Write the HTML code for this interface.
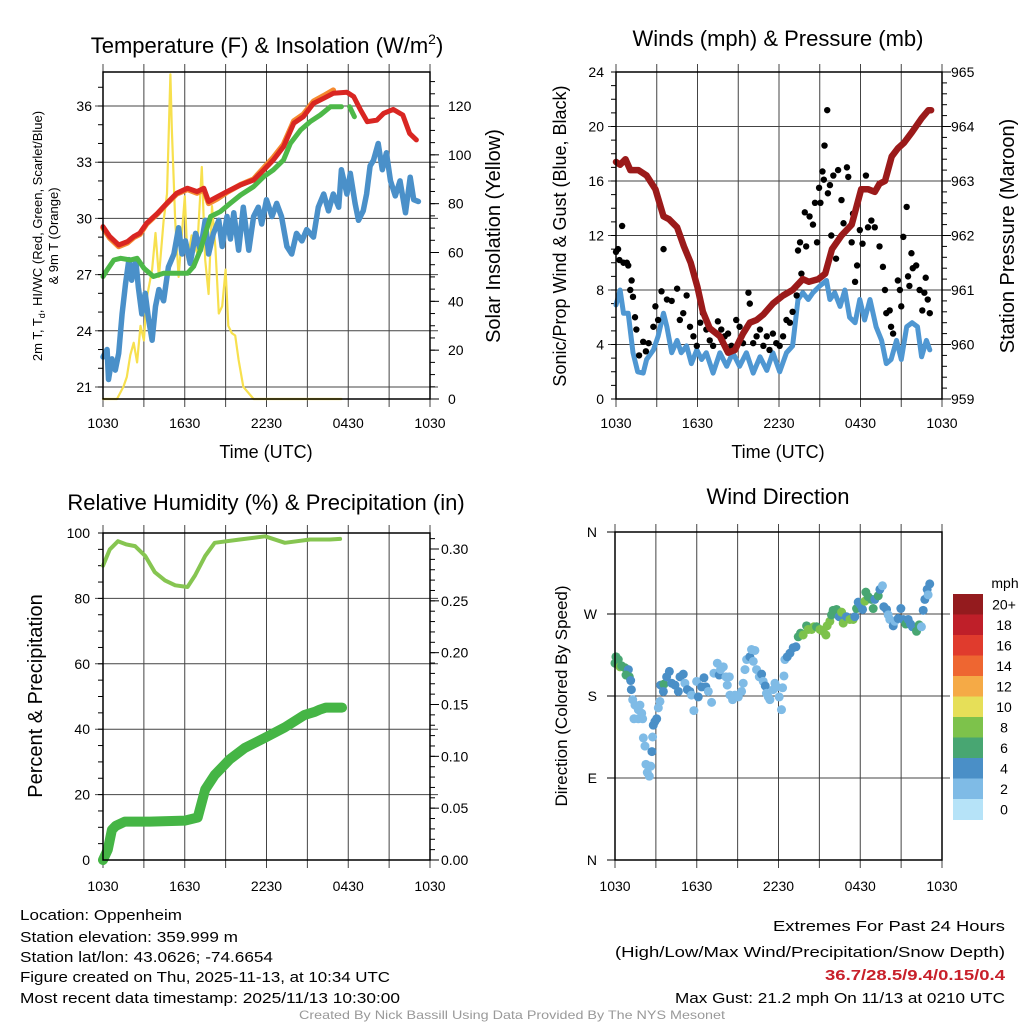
<!DOCTYPE html>
<html><head><meta charset="utf-8"><style>
html,body{margin:0;padding:0;background:#fff;}
svg{display:block;font-family:"Liberation Sans",Arial,sans-serif;}
</style></head><body>
<svg id="fig" width="1024" height="1024" viewBox="0 0 1024 1024" xmlns="http://www.w3.org/2000/svg">
<rect width="1024" height="1024" fill="#fff"/>
<g id="texts" fill="#000">
<text x="267" y="53" font-size="22" text-anchor="middle">Temperature (F) &amp; Insolation (W/m<tspan font-size="14" dy="-9">2</tspan><tspan dy="9">)</tspan></text>
<text x="778" y="46" font-size="22" text-anchor="middle">Winds (mph) &amp; Pressure (mb)</text>
<text x="266" y="510" font-size="22" text-anchor="middle">Relative Humidity (%) &amp; Precipitation (in)</text>
<text x="778" y="504" font-size="22" text-anchor="middle">Wind Direction</text>
<text x="266" y="458" font-size="18" text-anchor="middle">Time (UTC)</text>
<text x="778" y="458" font-size="18" text-anchor="middle">Time (UTC)</text>
<text transform="translate(42,236) rotate(-90)" font-size="13" text-anchor="middle">2m T, T<tspan font-size="9" dy="3">d</tspan><tspan dy="-3">, HI/WC (Red, Green, Scarlet/Blue)</tspan></text>
<text transform="translate(58,236) rotate(-90)" font-size="13" text-anchor="middle">&amp; 9m T (Orange)</text>
<text transform="translate(500,236) rotate(-90)" font-size="20" text-anchor="middle">Solar Insolation (Yellow)</text>
<text transform="translate(566,236) rotate(-90)" font-size="18" text-anchor="middle">Sonic/Prop Wind &amp; Gust (Blue, Black)</text>
<text transform="translate(1014,236) rotate(-90)" font-size="20" text-anchor="middle">Station Pressure (Maroon)</text>
<text transform="translate(42,696) rotate(-90)" font-size="20" text-anchor="middle">Percent &amp; Precipitation</text>
<text transform="translate(567,696) rotate(-90)" font-size="17" text-anchor="middle">Direction (Colored By Speed)</text>
<g font-size="15">
<text x="20" y="920" textLength="162" lengthAdjust="spacingAndGlyphs">Location: Oppenheim</text>
<text x="20" y="942" textLength="218" lengthAdjust="spacingAndGlyphs">Station elevation: 359.999 m</text>
<text x="20" y="962" textLength="253" lengthAdjust="spacingAndGlyphs">Station lat/lon: 43.0626; -74.6654</text>
<text x="20" y="982" textLength="370" lengthAdjust="spacingAndGlyphs">Figure created on Thu, 2025-11-13, at 10:34 UTC</text>
<text x="20" y="1003" textLength="380" lengthAdjust="spacingAndGlyphs">Most recent data timestamp: 2025/11/13 10:30:00</text>
<text x="1005" y="931" text-anchor="end" textLength="232" lengthAdjust="spacingAndGlyphs">Extremes For Past 24 Hours</text>
<text x="1005" y="957" text-anchor="end" textLength="390" lengthAdjust="spacingAndGlyphs">(High/Low/Max Wind/Precipitation/Snow Depth)</text>
<text x="1005" y="980" text-anchor="end" fill="#c8202a" font-weight="bold" textLength="180" lengthAdjust="spacingAndGlyphs">36.7/28.5/9.4/0.15/0.4</text>
<text x="1005" y="1003" text-anchor="end" textLength="330" lengthAdjust="spacingAndGlyphs">Max Gust: 21.2 mph On 11/13 at 0210 UTC</text>
</g>
<text x="512" y="1019" font-size="12" fill="#999" text-anchor="middle" textLength="426" lengthAdjust="spacingAndGlyphs">Created By Nick Bassill Using Data Provided By The NYS Mesonet</text>
</g>
</svg>
<script>
// ---------- DATA ----------
const timeLabels = ["1030","1630","2230","0430","1030"];
// Temperature panel
const airTHours = [0,0.5,1.15,1.8,2.25,2.7,3.2,4,4.7,5.4,6.2,6.9,7.4,7.75,8.4,9.1,10.1,11.05,11.8,12.5,13.25,14,14.7,15.45,16.2,16.9,17.9,18.4,18.9,19.4,20.1,20.6,21.3,22,22.5,23];
const airT = [29.56,29.03,28.58,28.76,29.03,29.21,29.74,30.27,30.81,31.34,31.61,31.43,31.61,30.9,31.16,31.43,31.79,32.05,32.59,33.12,33.83,35.08,35.43,36.14,36.41,36.68,36.73,36.5,35.79,35.16,35.25,35.61,35.82,35.52,34.54,34.19];
const t9mHours = [0,0.5,1.15,1.8,2.25,2.7,3.2,4,4.7,5.4,6.2,6.9,7.4,7.75,8.4,9.1,10.1,11.05,11.8,12.5,13.25,14,14.7,15.45,16.2,16.9];
const t9m = [29.5,28.95,28.5,28.7,28.98,29.15,29.7,30.25,30.8,31.3,31.55,31.35,31.55,30.8,31.05,31.4,31.8,32.1,32.7,33.25,33.95,35.2,35.55,36.25,36.55,36.85];
const dewHours = [0,0.3,0.8,1.3,2,2.5,3,3.7,4.45,5.2,6.2,6.65,7.15,7.9,8.6,9.35,10.1,11.05,11.8,12.5,13.25,13.75,14.5,15.2,15.95,16.7,17.5,17.8,18.1,18.45];
const dewT = [26.9,27.25,27.78,27.87,27.78,27.87,27.34,26.9,27.07,27.07,27.07,27.43,28.32,30.1,30.36,30.81,31.25,31.7,32.23,32.59,33.12,34.0,34.72,35.16,35.52,35.96,35.96,null,35.96,35.43];
const wcHours = [0,0.3,0.4,0.65,0.9,1.15,1.4,1.65,1.9,2.1,2.4,2.6,2.85,3.1,3.35,3.6,3.85,4.1,4.45,4.8,5.2,5.55,5.8,6.05,6.4,6.8,7.15,7.5,7.75,8.1,8.5,8.75,9.1,9.35,9.6,9.95,10.3,10.7,11.05,11.4,11.65,12,12.4,12.75,13.1,13.5,13.85,14.2,14.6,14.95,15.45,15.8,16.2,16.55,16.9,17.3,17.5,17.9,18.15,18.5,18.75,19.1,19.35,19.6,19.85,20.2,20.5,20.8,21.1,21.45,21.8,22.2,22.55,22.8,23.15];
const wcT = [22.6,23,21.4,22.5,21.9,22.8,24.9,26.5,27.8,26.7,27.8,26.3,24.9,26,24.6,23.5,25.3,26.2,25.6,27.4,28.1,29.5,28.1,28.8,27.6,29.2,28.3,29.9,28.1,29.2,29.9,28.5,30.1,28.9,30.3,28.3,30.6,28.3,30.1,30.6,29.7,31,30.1,30.8,30.1,28.5,28.1,29.2,28.8,29.4,29,30.6,31.3,30.4,31.3,30.6,32.6,31.3,32.4,30.8,29.9,30.4,31.3,32.8,33.1,34,32.6,33.5,32,31.2,32,30.3,32.2,31,30.9];
const solarHours = [0,1.03,1.5,1.75,2,2.25,2.5,2.75,3.0,3.2,3.6,3.85,4.1,4.45,4.7,4.95,5.05,5.3,5.55,6.0,6.2,6.5,6.9,7.25,7.5,7.75,8.0,8.25,8.5,8.75,9.0,9.2,9.45,9.7,9.95,10.3,11.05,17.5];
const solar = [0,0,5,9,18,23,15,30,24,41,53,68,50,73,84,133,111,73,50,83,57,67,60,95,57,43,79,62,35,38,53,30,27,26,16,5,0,0];
const tempTicks = [21,24,27,30,33,36];
const solarTicks = [0,20,40,60,80,100,120];
// Wind panel
const presHours = [0,0.3,0.7,1.05,1.65,2.25,2.9,3.5,3.9,4.5,5.0,5.5,6.0,6.4,6.9,7.65,8.25,8.75,9.35,9.85,10.35,10.85,11.55,12.3,13,13.75,14.2,14.9,15.4,15.9,16.6,17.35,18.05,18.55,19.05,19.4,19.8,20.3,20.75,21.2,21.8,22.5,23,23.2];
const pressure = [963.35,963.3,963.4,963.2,963.2,963.1,962.85,962.35,962.3,962.15,961.8,961.5,961.05,960.6,960.3,960.15,959.85,959.9,960.2,960.4,960.45,960.55,960.75,960.9,961,961.2,961.15,961.2,961.3,961.75,962,962.2,962.85,962.85,962.8,962.95,963,963.45,963.6,963.7,963.9,964.15,964.3,964.3];
const windHours = [0,0.3,0.55,0.9,1.25,1.6,2,2.25,2.75,3.1,3.5,3.75,4.1,4.5,4.8,5.2,5.55,5.95,6.3,6.65,7.15,7.65,8.15,8.6,9.1,9.6,10.1,10.6,11.1,11.55,12.05,12.55,13,13.4,13.75,14.15,14.5,15,15.5,15.75,16.1,16.5,16.85,17.2,17.6,17.95,18.3,18.7,19.15,19.55,19.9,20.25,20.65,21,21.4,21.8,22.2,22.5,22.85,23.1];
const windSpd = [6.9,8,6.3,6.3,3.4,2,1.9,2.9,3.6,4.6,6.3,5.3,3.4,4.3,3.4,3.9,2.6,3.6,2.9,3.4,1.9,3.4,2.4,3.4,2.4,3.4,1.9,3.1,2.1,3.4,2,3.4,3.9,7.3,7.8,7.3,7.8,8.3,8.7,7.3,7.8,6.8,8,6,5.6,7.3,5.8,7.3,5.3,4.3,2.6,2.9,4.3,2.9,5.3,5.6,5.3,3.1,4.3,3.6];
const gustHours = [0,0.15,0.25,0.45,0.55,0.8,0.9,1.05,1.15,1.25,1.4,1.5,1.7,2,2.2,2.4,2.75,2.9,3.1,3.35,3.5,3.75,4.1,4.5,4.7,4.95,5.2,5.45,5.7,5.95,6.2,6.4,6.65,6.9,7.15,7.5,7.75,8,8.25,8.5,8.85,9.1,9.35,9.75,9.85,10.1,10.35,10.6,10.85,11.1,11.3,11.55,11.8,12.05,12.3,12.55,12.8,13,13.3,13.4,13.55,13.65,13.9,14.0,14.25,14.5,14.65,14.8,14.95,15.05,15.2,15.3,15.35,15.55,15.6,15.75,15.85,16,16.2,16.35,16.6,16.75,17,17.1,17.35,17.45,17.6,17.75,17.95,18.15,18.4,18.55,18.8,19.05,19.4,19.65,19.8,19.9,20.15,20.25,20.4,20.75,20.9,21,21.15,21.4,21.5,21.6,21.75,21.85,22.1,22.35,22.55,22.7,22.8,22.95,23.1];
const gustSpd = [10.8,11,10.2,12.7,10,10,9.8,8,8.7,7.5,6,5.1,3.2,4.2,3.5,4.1,5.3,6.8,5.8,7.9,11,7.3,7.2,8.1,5.8,6.3,7.6,5.3,4.6,3.9,5.6,6.3,5.1,4.3,3.9,5.7,5.1,4.6,4.8,3.9,5.8,5.3,4.1,7.8,7,4.1,4.6,5.1,3.9,4.6,3.6,4.8,4.1,3.9,4.6,5.8,5.6,6.4,7.6,10.9,11.5,9.2,13.7,11.2,13.4,12.8,14.4,11.5,15.5,14.4,16.7,16.1,18.6,21.2,15.1,15.7,12,16.4,10.3,16.8,14.6,12.9,17,16.3,11.5,13.6,8.6,9.8,12.4,11.4,16.4,12.6,13.1,12.6,11.2,9.7,8,6.3,6.5,5.3,4.8,8.7,8,6.8,11.9,14.1,9,8.3,10.7,9.6,9.8,8,6.5,7.8,8.9,7.3,6.3];
const windTicks = [0,4,8,12,16,20,24];
const presTicks = [959,960,961,962,963,964,965];
// RH panel
const rhHours = [0,0.5,1.1,1.7,2.35,3.1,3.8,4.55,5.3,6.2,6.75,7.5,8.2,10.05,11.9,13.35,15.2,16.65,17.4,17.75,18.1];
const rh = [90,95,97.5,96.5,96,93,88,85.5,84,83.5,87,93,97,98,99,97,98,98,98.2,null,97];
const precipHours = [0,0.35,0.65,0.95,1.6,3.45,6,6.95,7.5,8.2,9.3,10.4,11.9,13.35,14.8,15.55,15.9,16.35,17,17.55];
const precip = [0,0.01,0.029,0.033,0.037,0.037,0.038,0.041,0.068,0.082,0.097,0.108,0.118,0.128,0.14,0.143,0.145,0.147,0.147,0.147];
const rhTicks = [0,20,40,60,80,100];
const precipTicks = [0,0.05,0.10,0.15,0.20,0.25,0.30];
// Direction panel
const dirHours = [0,0.07,0.24,0.37,0.49,0.73,0.98,0.81,1.05,1.15,1.2,1.3,1.47,1.71,1.83,1.39,1.71,2.03,1.96,2.08,2.2,2.27,2.37,2.52,2.62,2.71,2.76,2.81,2.93,3.06,3.18,3.3,3.35,3.59,3.55,3.79,3.99,4.16,4.4,4.65,4.77,5.01,5.13,5.31,5.5,5.62,5.79,5.99,6.11,6.36,6.53,6.67,6.85,7.09,7.26,7.51,7.65,7.75,7.95,8.14,8.24,8.39,8.44,8.63,8.8,9.05,9.29,9.41,9.54,9.66,9.9,10.02,10.27,10.15,10.39,10.59,10.76,10.88,11.03,11.12,11.25,11.37,11.61,11.74,11.86,12.05,12.22,12.3,12.4,12.47,12.64,12.84,13.08,13.28,13.45,13.62,13.81,14.06,14.18,14.43,14.6,14.79,15.04,15.28,15.48,15.57,15.77,15.89,16.01,16.26,16.45,16.63,16.75,16.99,17.24,17.48,17.6,17.73,17.85,18.02,18.17,18.34,18.41,18.58,18.83,18.95,19.07,19.32,19.44,19.63,19.73,19.93,20.05,20.17,20.42,20.54,20.78,20.98,21.15,21.34,21.52,21.69,21.83,22.13,22.32,22.49,22.62,22.74,22.91,23.1,22.98];
const dirDeg = [216,223,220,212,213,211,209,203,201,197,187,176,170,165,170,155,155,155,161,134,125,105,96,92,103,119,135,148,152,155,167,174,192,193,185,201,207,194,192,185,201,204,194,187,185,181,164,196,179,190,200,190,185,173,205,216,203,209,212,201,192,201,181,176,181,179,185,194,209,220,223,231,230,218,209,201,204,196,191,183,179,176,187,194,190,179,165,189,202,220,223,227,233,234,245,249,247,257,253,253,256,256,253,251,247,257,262,269,274,275,267,272,260,267,264,264,267,276,283,280,275,284,294,289,286,276,286,290,297,301,278,275,269,264,257,262,265,276,264,259,264,259,256,251,258,256,274,286,297,303,291];
const dirSpd = [6,6,6,8,6,6,4,6,6,4,4,2,2,2,2,2,2,2,2,2,2,2,2,2,2,4,2,4,4,4,2,2,4,6,4,4,4,4,4,4,4,4,2,4,4,2,2,2,4,4,4,4,2,2,2,2,4,2,2,2,2,2,2,2,2,2,2,2,2,2,4,2,2,2,2,2,4,2,4,2,2,2,2,2,2,2,2,2,2,2,4,4,4,4,6,6,8,6,8,8,8,6,8,8,8,8,8,6,6,6,4,8,8,4,8,8,4,6,4,4,4,8,6,6,6,6,4,6,4,2,4,4,2,2,4,2,4,4,4,6,4,4,4,6,6,2,4,4,4,4,2];
const dirTickLabels = ["N","E","S","W","N"];
const speedBins = [0,2,4,6,8,10,12,14,16,18,20];
const speedBinLabels = ["0","2","4","6","8","10","12","14","16","18","20+"];
const speedColors = ["#b6e3f8","#7fbbe6","#4a8fc7","#48a672","#7dc24b","#e6df58","#f5aa46","#ee6631","#e03b2d","#bf1f29","#941b1e"];

// ---------- DRAWING ----------
const NS="http://www.w3.org/2000/svg";
const svg=document.getElementById('fig');
function mk(tag,attrs,parent){const e=document.createElementNS(NS,tag);for(const k in attrs)e.setAttribute(k,attrs[k]);(parent||svg).appendChild(e);return e;}
function lin(d0,d1,r0,r1){return v=>r0+(v-d0)*(r1-r0)/(d1-d0);}

function panel(name,L,R,T,B){
  const g=mk('g',{});
  
  
  return {g,L,R,T,B,x:lin(0,24,L,R)};
}
function frame(p){
  const grid=mk('g',{stroke:'#444','stroke-width':1},p.g);
  
  
  for(let h=0;h<=24;h+=3){
    const X=p.x(h);
    const l=mk('line',{x1:X,x2:X,y1:p.T-8,y2:p.B+8},grid);
    
    
  }
  return grid;
}
function hgrid(p,grid,ys){ys.forEach(Y=>{const l=mk('line',{x1:p.L-8,x2:p.R+8,y1:Y,y2:Y},grid);});}
function border(p){const r=mk('rect',{x:p.L,y:p.T,width:p.R-p.L,height:p.B-p.T,fill:'none',stroke:'#000','stroke-width':1.5},p.g);}
function xlabels(p,y){timeLabels.forEach((t,i)=>{const e=mk('text',{x:p.x(i*6),y:y,'font-size':14,'text-anchor':'middle'},p.g);e.textContent=t;});}
function ylabels(p,ticks,fy,x,anchor,fmt){ticks.forEach(t=>{const e=mk('text',{x:x,y:fy(t)+5,'font-size':14,'text-anchor':anchor},p.g);e.textContent=fmt?fmt(t):t;});}
function minor(p,ticks,fy,side,len){ticks.forEach(t=>{const Y=fy(t);const x0=side<0?p.L:p.R;const l=mk('line',{x1:x0,x2:x0+side*len,y1:Y,y2:Y,stroke:'#000','stroke-width':1},p.g);});}
function path(p,xs,ys,fy,style,name){
  let d='',pen=false;
  xs.forEach((h,i)=>{const v=ys[i];if(v===null||v===undefined){pen=false;return;}d+=(pen?'L':'M')+p.x(h).toFixed(1)+','+fy(v).toFixed(1);pen=true;});
  const e=mk('path',Object.assign({d:d,fill:'none','stroke-linejoin':'round','stroke-linecap':'round'},style),p.g);
  
  
  return e;
}
function range(a,b,s){const r=[];for(let v=a;v<=b+1e-9;v+=s)r.push(+v.toFixed(4));return r;}

// Panel 1: temperature
{
  const p=panel('temperature-panel',103,430,72,399);
  const fy=lin(21,36,387,106), fs=lin(0,120,399,106);
  const grid=frame(p); hgrid(p,grid,tempTicks.map(fy));
  minor(p,range(21,37,1),fy,-1,5); minor(p,range(0,130,5),fs,1,5); minor(p,solarTicks,fs,1,9);
  path(p,solarHours,solar,fs,{stroke:'#f7e04e','stroke-width':2.2},'solar-line');
  path(p,wcHours,wcT,fy,{stroke:'#4a90c9','stroke-width':5.5},'windchill-line');
  path(p,dewHours,dewT,fy,{stroke:'#4db848','stroke-width':5},'dewpoint-line');
  path(p,t9mHours,t9m,fy,{stroke:'#f58a30','stroke-width':5.5},'temp-9m-line');
  path(p,airTHours,airT,fy,{stroke:'#d92622','stroke-width':5},'temp-2m-line');
  border(p); xlabels(p,428);
  ylabels(p,tempTicks,fy,92,'end'); ylabels(p,solarTicks,fs,448,'start');
}
// Panel 2: winds
{
  const p=panel('wind-panel',616,942,72,399);
  const fy=lin(0,24,399,72), fp=lin(959,965,399,72);
  const grid=frame(p); hgrid(p,grid,[4,8,12,16,20].map(fy));
  minor(p,range(0,24,1),fy,-1,5); minor(p,range(959,965,0.2),fp,1,5); minor(p,presTicks,fp,1,9);
  path(p,windHours,windSpd,fy,{stroke:'#4f97d2','stroke-width':5},'wind-speed-line');
  const dots=mk('g',{fill:'#000'},p.g);
  
  
  gustHours.forEach((h,i)=>{const c=mk('circle',{cx:p.x(h),cy:fy(gustSpd[i]),r:3.2},dots);});
  path(p,presHours,pressure,fp,{stroke:'#9b1a1a','stroke-width':6.5},'pressure-line');
  border(p); xlabels(p,428);
  ylabels(p,windTicks,fy,604,'end'); ylabels(p,presTicks,fp,951,'start');
}
// Panel 3: RH & precip
{
  const p=panel('rh-precip-panel',103,430,533,860);
  const fy=lin(0,100,860,533), fr=lin(0,0.30,860,549);
  const grid=frame(p); hgrid(p,grid,[20,40,60,80].map(fy));
  minor(p,range(0,100,5),fy,-1,5); minor(p,range(0,0.31,0.01),fr,1,5); minor(p,precipTicks,fr,1,9);
  path(p,rhHours,rh,fy,{stroke:'#86c551','stroke-width':4},'rh-line');
  path(p,precipHours,precip,fr,{stroke:'#45b545','stroke-width':10},'precip-line');
  border(p); xlabels(p,891);
  ylabels(p,rhTicks,fy,90,'end'); ylabels(p,precipTicks,fr,441,'start',v=>v.toFixed(2));
}
// Panel 4: wind direction
{
  const p=panel('direction-panel',615,942,532,860);
  const fy=lin(0,360,860,532);
  const grid=frame(p); hgrid(p,grid,[90,180,270].map(fy));
  [0,90,180,270,360].forEach(d=>{const l=mk('line',{x1:p.L-8,x2:p.L,y1:fy(d),y2:fy(d),stroke:'#000'},p.g);});
  const dots=mk('g',{},p.g);
  
  
  dirHours.forEach((h,i)=>{
    let bin=0;speedBins.forEach((b,k)=>{if(dirSpd[i]>=b)bin=k;});
    const c=mk('circle',{cx:p.x(h),cy:fy(dirDeg[i]),r:4.5,fill:speedColors[bin]},dots);
    
    
  });
  border(p); xlabels(p,891);
  dirTickLabels.forEach((t,i)=>{const e=mk('text',{x:597,y:fy(i*90)+5,'font-size':14,'text-anchor':'end'},p.g);e.textContent=t;});
  // colorbar
  const cb=mk('g',{});
  
  
  const top=594,bh=20.5;
  const u=mk('text',{x:1005,y:588,'font-size':14,'text-anchor':'middle'},cb);u.textContent='mph';
  
  
  speedColors.slice().reverse().forEach((c,k)=>{
    const r=mk('rect',{x:953,y:top+k*bh,width:30,height:bh+0.5,fill:c},cb);
    
    
    const t=mk('text',{x:1004,y:top+k*bh+bh/2+5,'font-size':14,'text-anchor':'middle'},cb);
    t.textContent=speedBinLabels[speedBinLabels.length-1-k];
    
    
  });
}
</script>
</body></html>
